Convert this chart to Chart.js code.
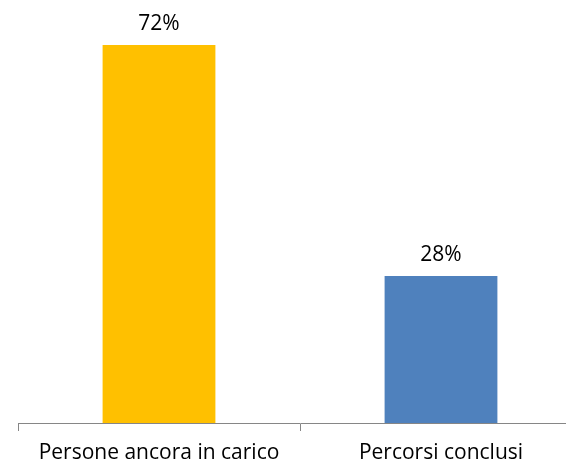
<!DOCTYPE html>
<html>
<head>
<meta charset="utf-8">
<script src="https://cdn.jsdelivr.net/npm/chart.js@4/dist/chart.umd.min.js"></script>
<style>
  html, body { margin: 0; padding: 0; background: #fff; overflow: hidden; }
  #wrap { width: 600px; height: 465px; }
</style>
</head>
<body>
<div id="wrap"><canvas id="c"></canvas></div>
<script>
/* Data */
const categories = ['Persone ancora in carico', 'Percorsi conclusi'];
const values = [72, 28];
const barColors = ['#FFC000', '#4F81BD'];

/* Draws the percentage above each bar */
const valueLabels = {
    id: 'valueLabels',
    afterDatasetsDraw(chart) {
        const ctx = chart.ctx;
        const meta = chart.getDatasetMeta(0);
        ctx.save();
        ctx.font = '21px "Open Sans", sans-serif';
        ctx.fillStyle = '#000';
        ctx.textAlign = 'center';
        ctx.textBaseline = 'alphabetic';
        meta.data.forEach((bar, i) => {
            ctx.fillText(values[i] + '%', bar.x, bar.y - 15);
        });
        ctx.restore();
    }
};

new Chart(document.getElementById('c'), {
    type: 'bar',
    data: {
        labels: categories,
        datasets: [{
            data: values,
            backgroundColor: barColors,
            barPercentage: 0.4,
            categoryPercentage: 1
        }]
    },
    options: {
        responsive: true,
        maintainAspectRatio: false,
        animation: false,
        layout: { padding: { left: 18, right: 18, top: 3, bottom: 0 } },
        plugins: {
            legend: { display: false },
            tooltip: { enabled: false }
        },
        scales: {
            x: {
                afterFit: axis => { axis.height = 42; },
                grid: {
                    offset: true,
                    drawOnChartArea: false,
                    tickLength: 8,
                    color: '#868686'
                },
                border: { color: '#868686', width: 1 },
                ticks: {
                    color: '#000',
                    padding: 9,
                    font: { family: '"Open Sans", sans-serif', size: 21 }
                }
            },
            y: {
                display: false,
                min: 0,
                max: 80
            }
        }
    },
    plugins: [valueLabels]
});
</script>
</body>
</html>
